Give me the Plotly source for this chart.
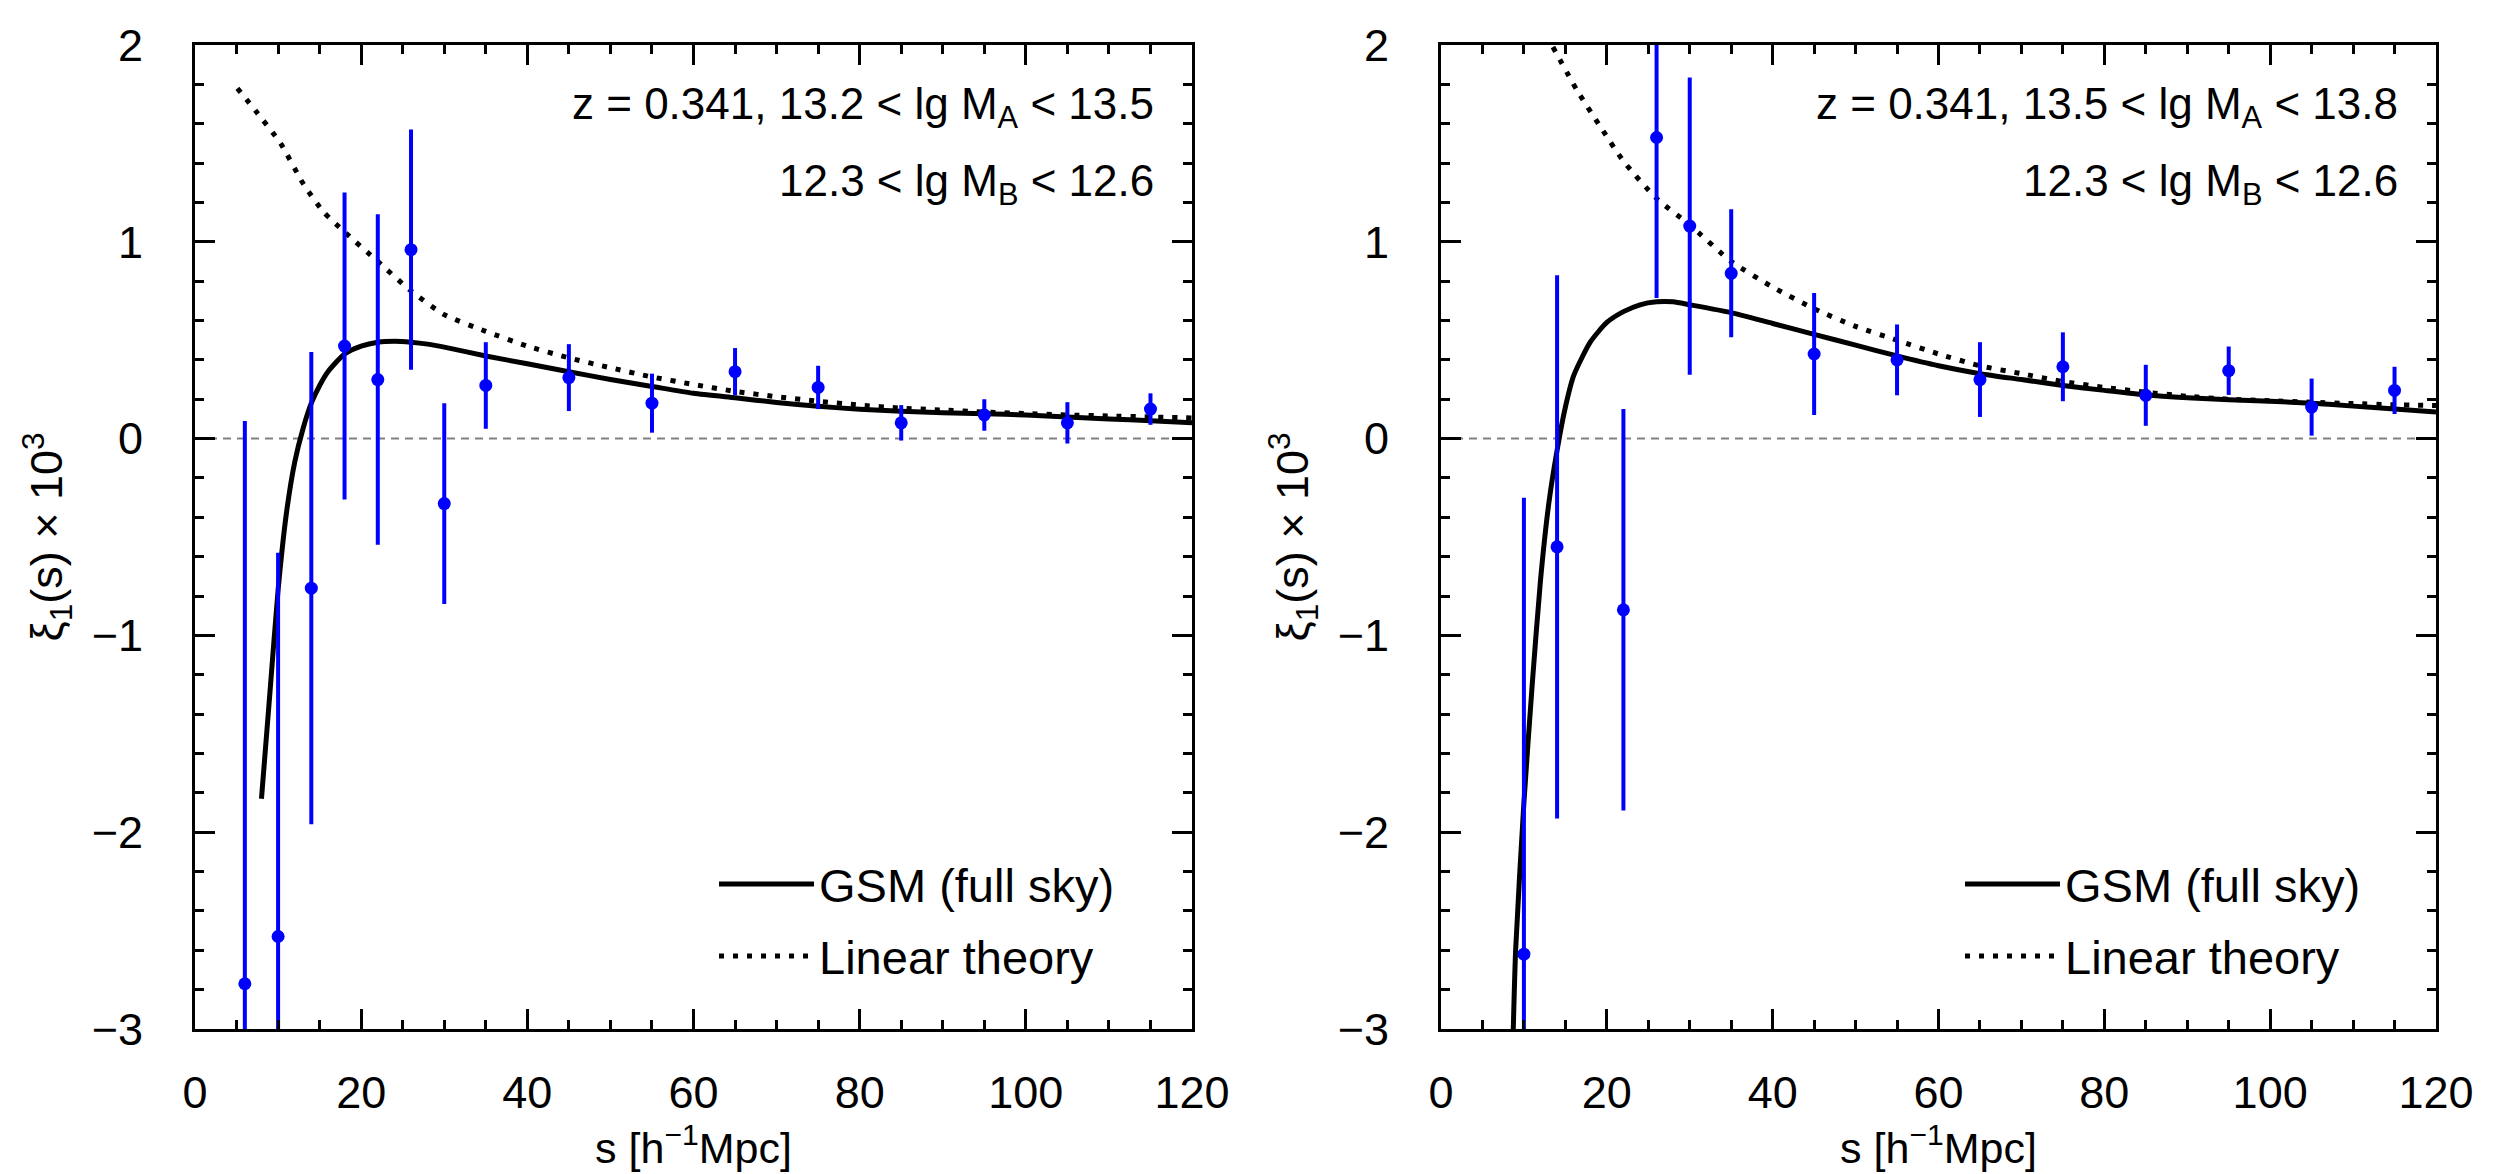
import plotly.graph_objects as go

# ---------------- data ----------------
# left panel: 13.2 < lg M_A < 13.5
s_left = [6, 10, 14, 18, 22, 26, 30, 35, 45, 55, 65, 75, 85, 95, 105, 115]
xi_left = [-2.77, -2.53, -0.76, 0.47, 0.30, 0.96, -0.33, 0.27, 0.31, 0.18, 0.34, 0.26, 0.08, 0.12, 0.08, 0.15]
err_left = [2.86, 1.95, 1.20, 0.78, 0.84, 0.61, 0.51, 0.22, 0.17, 0.15, 0.12, 0.11, 0.09, 0.08, 0.105, 0.08]

gsm_s_left = [8, 9, 10, 11, 12, 13, 14, 15, 16, 18, 20, 22, 24, 26, 28, 30, 35, 40, 45, 50, 55, 60, 65,
              70, 75, 80, 85, 90, 95, 100, 105, 110, 115, 120]
gsm_xi_left = [-1.83, -1.30, -0.77, -0.38, -0.12, 0.05, 0.18, 0.27, 0.34, 0.43, 0.47, 0.49, 0.495, 0.49,
               0.48, 0.465, 0.42, 0.38, 0.34, 0.30, 0.265, 0.23, 0.207, 0.184, 0.164, 0.149, 0.139,
               0.131, 0.126, 0.12, 0.11, 0.10, 0.091, 0.081]

lin_s_left = [5.1, 7.4, 10.3, 13.1, 15.5, 18, 22, 26, 30, 35, 40, 45, 50, 55, 60, 65, 70, 75, 80, 85,
              90, 95, 100, 105, 110, 115, 120]
lin_xi_left = [1.78, 1.66, 1.50, 1.29, 1.15, 1.05, 0.90, 0.75, 0.63, 0.545, 0.47, 0.41, 0.36, 0.313,
               0.275, 0.24, 0.213, 0.19, 0.17, 0.155, 0.145, 0.135, 0.127, 0.12, 0.115, 0.11, 0.105]

# right panel: 13.5 < lg M_A < 13.8
s_right = [10, 14, 22, 26, 30, 35, 45, 55, 65, 75, 85, 95, 105, 115]
xi_right = [-2.62, -0.55, -0.87, 1.53, 1.08, 0.84, 0.43, 0.40, 0.30, 0.365, 0.22, 0.345, 0.16, 0.245]
err_right = [2.32, 1.38, 1.02, 0.815, 0.755, 0.325, 0.31, 0.18, 0.19, 0.175, 0.155, 0.123, 0.145, 0.12]

gsm_s_right = [8.6, 9, 10, 11, 12, 13, 14, 15, 16, 18, 20, 22, 24, 26, 28, 30, 35, 40, 45, 50, 55, 60,
               65, 70, 75, 80, 85, 90, 95, 100, 105, 110, 115, 120]
gsm_xi_right = [-3.2, -2.6, -1.85, -1.25, -0.72, -0.33, -0.06, 0.16, 0.32, 0.49, 0.59, 0.645, 0.68,
                0.695, 0.695, 0.68, 0.64, 0.585, 0.53, 0.475, 0.42, 0.37, 0.33, 0.30, 0.27, 0.245,
                0.222, 0.208, 0.198, 0.19, 0.18, 0.165, 0.15, 0.135]

lin_s_right = [13.5, 16.4, 19.3, 22, 26, 30, 35, 40, 45, 50, 55, 60, 65, 70, 75, 80, 85, 90, 95, 100,
               105, 110, 115, 120]
lin_xi_right = [1.99, 1.77, 1.58, 1.41, 1.22, 1.086, 0.90, 0.77, 0.66, 0.57, 0.50, 0.43, 0.37, 0.33,
                0.29, 0.26, 0.236, 0.215, 0.20, 0.192, 0.185, 0.178, 0.172, 0.168]

labels_left = ["z = 0.341, 13.2 < lg M<sub>A</sub> < 13.5", "12.3 < lg M<sub>B</sub> < 12.6"]
labels_right = ["z = 0.341, 13.5 < lg M<sub>A</sub> < 13.8", "12.3 < lg M<sub>B</sub> < 12.6"]
legend_names = ["GSM (full sky)", "Linear theory"]

x_ticks = [0, 20, 40, 60, 80, 100, 120]
y_ticks = [-3, -2, -1, 0, 1, 2]

# ---------------- styling ----------------
FONT = "Liberation Sans, Arial, Helvetica, sans-serif"
BLUE = "#0000ff"
DOT = "5px,9px"

fig = go.Figure()

panels = [
    ("x", "y", "legend", s_left, xi_left, err_left, gsm_s_left, gsm_xi_left, lin_s_left, lin_xi_left),
    ("x2", "y2", "legend2", s_right, xi_right, err_right, gsm_s_right, gsm_xi_right, lin_s_right, lin_xi_right),
]

for xa, ya, lg, s, xi, err, gs, gx, ls, lx in panels:
    fig.add_trace(go.Scatter(
        x=gs, y=gx, mode="lines", name=legend_names[0], xaxis=xa, yaxis=ya,
        line=dict(color="black", width=5, shape="spline", smoothing=0.6),
        legend=lg, legendgroup=lg + "a",
    ))
    fig.add_trace(go.Scatter(
        x=ls, y=lx, mode="lines", name=legend_names[1], xaxis=xa, yaxis=ya,
        line=dict(color="black", width=5, dash=DOT, shape="spline", smoothing=0.6),
        legend=lg, legendgroup=lg + "b",
    ))
    fig.add_trace(go.Scatter(
        x=s, y=xi, mode="markers", xaxis=xa, yaxis=ya, showlegend=False,
        marker=dict(color=BLUE, size=13),
        error_y=dict(type="data", array=err, visible=True, color=BLUE, thickness=4, width=0),
    ))
    fig.add_shape(type="line", xref=xa + " domain", yref=ya, x0=0, x1=1, y0=0, y1=0,
                  line=dict(color="#808080", width=2, dash="8px,6px"), layer="below")

axis_common = dict(
    showline=True, linecolor="black", linewidth=3, mirror="ticks",
    ticks="inside", ticklen=20, tickwidth=3, tickcolor="black",
    showgrid=False, zeroline=False,
    tickfont=dict(family=FONT, size=45, color="black"),
)

xdom_left = [0, 0.4449]
xdom_right = [0.5560, 1]

xaxis_cfg = dict(axis_common, range=[0, 120], tickvals=x_ticks,
                 minor=dict(dtick=5, ticklen=9, tickwidth=3, tickcolor="black", ticks="inside"),
                 ticklabelstandoff=22,
                 title=dict(text="s [h<sup>−1</sup>Mpc]",
                            font=dict(family=FONT, size=43, color="black")))
yaxis_cfg = dict(axis_common, range=[-3, 2], tickvals=y_ticks,
                 minor=dict(dtick=0.2, ticklen=9, tickwidth=3, tickcolor="black", ticks="inside"),
                 ticklabelstandoff=40,
                 title=dict(text="ξ<sub>1</sub>(s) × 10<sup>3</sup>",
                            font=dict(family=FONT, size=45, color="black")))

legend_common = dict(yanchor="top", xanchor="left", y=0.185,
                     font=dict(family=FONT, size=47, color="black"),
                     bgcolor="rgba(0,0,0,0)", itemwidth=95, tracegroupgap=8)

fig.update_layout(
    width=2500, height=1174,
    margin=dict(l=187, r=72, t=32, b=153),
    paper_bgcolor="white", plot_bgcolor="white",
    font=dict(family=FONT, color="black"),
    xaxis=dict(xaxis_cfg, domain=xdom_left, anchor="y"),
    yaxis=dict(yaxis_cfg, domain=[0, 1], anchor="x"),
    xaxis2=dict(xaxis_cfg, domain=xdom_right, anchor="y2"),
    yaxis2=dict(yaxis_cfg, domain=[0, 1], anchor="x2"),
    legend=dict(legend_common, x=0.2316),
    legend2=dict(legend_common, x=0.2316 + 0.5560),
    showlegend=True,
)

for xa, ya, labels in [("x", "y", labels_left), ("x2", "y2", labels_right)]:
    for txt, yy in zip(labels, [0.9373, 0.8584]):
        fig.add_annotation(text=txt, xref=xa + " domain", yref=ya + " domain",
                           x=0.9639, y=yy, xanchor="right", yanchor="middle", showarrow=False,
                           font=dict(family=FONT, size=44, color="black"))

fig.write_html("out.html")
